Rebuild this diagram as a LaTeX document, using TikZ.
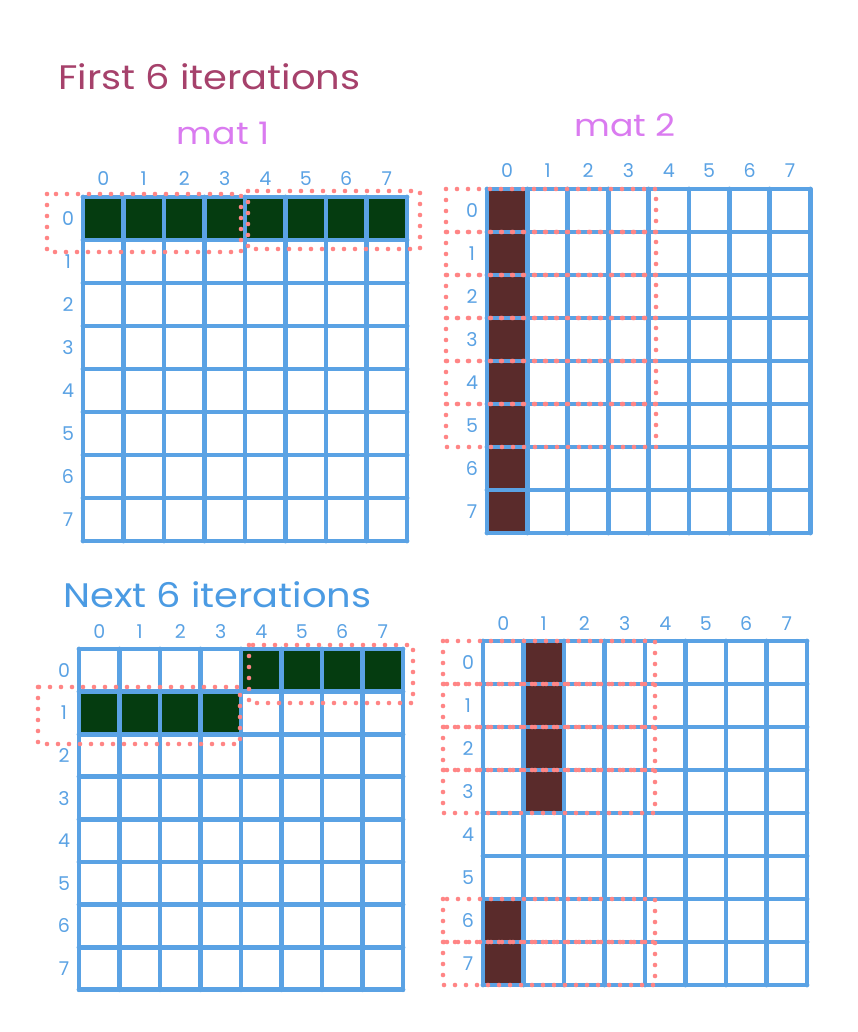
\documentclass[tikz,border=0pt]{standalone}
\usepackage{fontspec}
\setmainfont{Poppins}
\definecolor{gridblue}{HTML}{5AA2E4}
\definecolor{dotred}{HTML}{FF8585}
\definecolor{cellgreen}{HTML}{053C10}
\definecolor{cellbrown}{HTML}{5A2B2B}
\definecolor{titlemag}{HTML}{A6416B}
\definecolor{matviolet}{HTML}{DA7BF0}
\definecolor{titleblue}{HTML}{4B9BE3}
\tikzset{
  gridline/.style={draw=gridblue, line width=4.8pt, line cap=round},
  dotbox/.style={draw=dotred, line width=4.6pt, line cap=round, dash pattern=on 0pt off 11pt},
  idxlabel/.style={text=gridblue, font=\fontsize{19}{19}\selectfont, inner sep=0pt, anchor=base},
  titletext/.style={font=\fontsize{34}{34}\selectfont, inner sep=0pt, anchor=base west, xscale=1.13},
  mattext/.style={text=matviolet, font=\fontsize{31}{31}\selectfont, inner sep=0pt, anchor=base, xscale=1.12},
}
% #1 name, #2 x0, #3 y0, #4 cell width, #5 row height
\newcommand{\mygrid}[5]{%
  \foreach \k in {0,...,8} {
    \draw[gridline] ({#2+\k*#4},#3) -- ({#2+\k*#4},{#3+8*#5});
    \draw[gridline] (#2,{#3+\k*#5}) -- ({#2+8*#4},{#3+\k*#5});
  }
  \foreach \k in {0,...,7} {
    \node[idxlabel] (#1-c\k) at ({#2+(\k+0.5)*#4},{#3-11}) {\k};
    \node[idxlabel] (#1-r\k) at ({#2-15},{#3+(\k+0.5)*#5+7}) {\k};
  }
}
% #1 color, #2 x0, #3 y0, #4 cw, #5 rh, #6 col, #7 row
\newcommand{\mycell}[7]{%
  \fill[#1] ({#2+#6*#4},{#3+#7*#5}) rectangle ({#2+(#6+1)*#4},{#3+(#7+1)*#5});
}
\begin{document}
\begin{tikzpicture}[x=1pt,y=-1pt]
\useasboundingbox (0,0) rectangle (857,1032);
\fill[white] (0,0) rectangle (857,1032);

% titles
\node[titletext, text=titlemag] (title1) at (58,90) {First 6 iterations};
\node[titletext, text=titleblue] (title2) at (63,607) {Next 6 iterations};
\node[mattext] (mat1) at (223,145) {mat 1};
\node[mattext] (mat2) at (625,137) {mat 2};

% ---------- top-left ----------
\foreach \c in {0,...,7} { \mycell{cellgreen}{83}{197}{40.5}{43}{\c}{0} }
\mygrid{tl}{83}{197}{40.5}{43}
\draw[dotbox] (47,194) rectangle (241,252);
\draw[dotbox] (248,191) rectangle (420,249);

% ---------- top-right ----------
\foreach \r in {0,...,7} { \mycell{cellbrown}{487}{189}{40.4}{43}{0}{\r} }
\mygrid{tr}{487}{189}{40.4}{43}
\foreach \r in {0,...,5} {
  \draw[dotbox] (446,{189+\r*43}) rectangle (656,{189+(\r+1)*43});
}

% ---------- bottom-left ----------
\foreach \c in {4,...,7} { \mycell{cellgreen}{79}{649}{40.5}{42.6}{\c}{0} }
\foreach \c in {0,...,3} { \mycell{cellgreen}{79}{649}{40.5}{42.6}{\c}{1} }
\mygrid{bl}{79}{649}{40.5}{42.6}
\draw[dotbox] (249,645) rectangle (413,703);
\draw[dotbox] (38,687) rectangle (240,744);

% ---------- bottom-right ----------
\foreach \r in {0,...,3} { \mycell{cellbrown}{483}{641}{40.5}{43}{1}{\r} }
\foreach \r in {6,7} { \mycell{cellbrown}{483}{641}{40.5}{43}{0}{\r} }
\mygrid{br}{483}{641}{40.5}{43}
\foreach \r in {0,1,2,3,6,7} {
  \draw[dotbox] (443,{641+\r*43}) rectangle (655,{641+(\r+1)*43});
}
\end{tikzpicture}
\end{document}
